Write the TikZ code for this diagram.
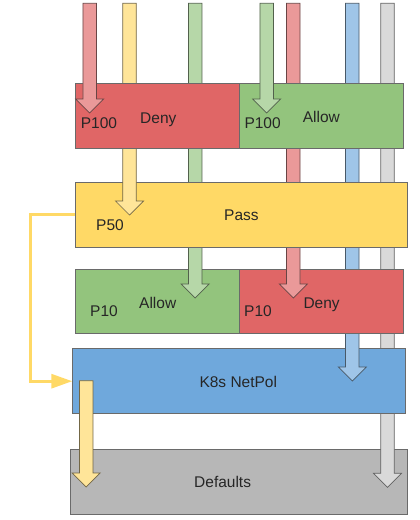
\documentclass[tikz,border=0pt]{standalone}
\usepackage{fontspec}
\setmainfont{Liberation Sans}
\usetikzlibrary{arrows.meta}
\definecolor{aRed}{HTML}{EA9999}
\definecolor{aYel}{HTML}{FFE599}
\definecolor{aGrn}{HTML}{B6D7A8}
\definecolor{aBlu}{HTML}{9FC5E8}
\definecolor{aGry}{HTML}{D9D9D9}
\definecolor{bRed}{HTML}{E06666}
\definecolor{bGrn}{HTML}{93C47D}
\definecolor{bYel}{HTML}{FFD966}
\definecolor{bBlu}{HTML}{6FA8DC}
\definecolor{bGry}{HTML}{B7B7B7}
\definecolor{edgeC}{HTML}{6A6A6A}
\definecolor{txtC}{HTML}{262626}
\newcommand\blockarrow[4]{%
  \filldraw[fill=#4, draw=#4!45!black, line width=0.7pt, line join=miter]
    ({#1-6.75},{#2}) -- ({#1+6.75},{#2}) -- ({#1+6.75},{#3-14}) -- ({#1+14},{#3-14})
    -- ({#1},{#3}) -- ({#1-14},{#3-14}) -- ({#1-6.75},{#3-14}) -- cycle;}
\tikzset{
  box/.style={draw=edgeC, line width=0.8pt, rectangle, inner sep=0pt, anchor=north west},
  lbl/.style={text=txtC, anchor=base west, inner sep=0pt, font=\fontsize{15.5}{18}\selectfont},
  conn/.style={draw=bYel, line width=3pt, -{Triangle[length=21pt,width=14pt]}}
}
\begin{document}
\begin{tikzpicture}[x=1pt,y=-1pt]
\useasboundingbox (0,0) rectangle (420,520);
% Defaults
\node[box, fill=bGry, minimum width=337.3pt, minimum height=65.3pt] (defaults) at (70,449) {};
\blockarrow{387.5}{3.3}{487.3}{aGry}
% K8s
\node[box, fill=bBlu, minimum width=332.7pt, minimum height=65pt] (k8s) at (72.3,348.3) {};
\blockarrow{352.3}{3.3}{381}{aBlu}
\blockarrow{86.2}{380.7}{487}{aYel}
% P10 row
\node[box, fill=bGrn, minimum width=164.3pt, minimum height=64.3pt] (allowb) at (75,269) {};
\node[box, fill=bRed, minimum width=164pt, minimum height=64.3pt] (denyb) at (239.3,269) {};
\blockarrow{195.2}{3.3}{298}{aGrn}
\blockarrow{293.3}{3.3}{298}{aRed}
% Pass
\node[box, fill=bYel, minimum width=331.7pt, minimum height=65.6pt] (pass) at (75,181.7) {};
\blockarrow{129.5}{3.3}{215}{aYel}
% P100 row
\node[box, fill=bRed, minimum width=164.3pt, minimum height=65pt] (denya) at (75,83.3) {};
\node[box, fill=bGrn, minimum width=164pt, minimum height=65pt] (allowa) at (239.3,83.3) {};
\blockarrow{89.7}{3.3}{113}{aRed}
\blockarrow{266.7}{3.3}{113}{aGrn}
% connector
\draw[conn] (pass.west) -- ++(-44.3,0) |- (k8s.west);
% labels
\node[lbl] (t1) at (80.7,128) {P100};
\node[lbl] (t2) at (140,123) {Deny};
\node[lbl] (t3) at (244.3,128) {P100};
\node[lbl] (t4) at (302.7,122.5) {Allow};
\node[lbl] (t5) at (224,220.7) {Pass};
\node[lbl] (t6) at (96,230) {P50};
\node[lbl] (t7) at (90,316.7) {P10};
\node[lbl] (t8) at (139,308.3) {Allow};
\node[lbl] (t9) at (244,316.7) {P10};
\node[lbl] (t10) at (303.3,308.3) {Deny};
\node[lbl] (t11) at (199.3,387.7) {K8s NetPol};
\node[lbl] (t12) at (194,487.7) {Defaults};
\end{tikzpicture}
\end{document}
